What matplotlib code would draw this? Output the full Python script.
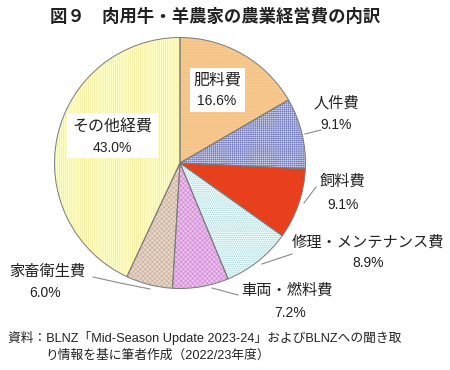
import matplotlib
matplotlib.use("Agg")
import matplotlib.pyplot as plt
from matplotlib.lines import Line2D
from matplotlib.patches import Rectangle

plt.rcParams['font.family'] = ['Liberation Sans', 'Noto Sans CJK JP', 'DejaVu Sans']
plt.rcParams['hatch.linewidth'] = 0.45

# data (clockwise from 12 o'clock)
categories = ["肥料費", "人件費", "飼料費", "修理・メンテナンス費", "車両・燃料費", "家畜衛生費", "その他経費"]
shares = [16.6, 9.1, 9.1, 8.9, 7.2, 6.0, 43.0]
pct_labels = ["16.6%", "9.1%", "9.1%", "8.9%", "7.2%", "6.0%", "43.0%"]

face_colors = ["#F7C98E", "#D2D5EE", "#E8401C", "#E6F8F8", "#EDBDEE", "#E8D6C8", "#FFFFC8"]
hatch_colors = ["#EEB878", "#7880C0", "#E8401C", "#9CCED2", "#CC8CD2", "#C8AE9C", "#F0E696"]
hatches = ["......", "++++++++", None, "........", "xxxxxxx", "xxxxxxx", "||||||||"]

W, H = 450, 370
fig = plt.figure(figsize=(4.5, 3.7), dpi=100)


def fx(x):
    return x / W


def fy(y):
    return 1 - y / H


# pie, centre (180,163) radius 128 px
cx, cy, r = 180, 163, 128
ax = fig.add_axes([fx(cx - r), fy(cy + r), 2 * r / W, 2 * r / H])
wedges, _ = ax.pie(shares, startangle=90, counterclock=False, colors=face_colors,
                   wedgeprops=dict(linewidth=0))
for w, hc, h in zip(wedges, hatch_colors, hatches):
    w.set_edgecolor(hc)
    w.set_linewidth(0)
    if h:
        w.set_hatch(h)
# outlines on top
outl, _ = ax.pie(shares, startangle=90, counterclock=False,
                 wedgeprops=dict(fill=False, edgecolor="#7a7a7a", linewidth=0.7))
ax.set_xlim(-1.02, 1.02)
ax.set_ylim(-1.02, 1.02)
ax.axis("off")

# title
fig.text(fx(215), fy(16), "図９　肉用牛・羊農家の農業経営費の内訳", ha="center", va="center",
         fontsize=12.5, fontweight="bold", color="#222222")


def boxed(x0, x1, y0, y1, name, pct, xc, yn, yp):
    fig.add_artist(Rectangle((fx(x0), fy(y1)), (x1 - x0) / W, (y1 - y0) / H,
                             transform=fig.transFigure, facecolor="white", edgecolor="none"))
    fig.text(fx(xc), fy(yn), name, ha="center", va="center", fontsize=11.5, color="#222222")
    fig.text(fx(xc), fy(yp), pct, ha="center", va="center", fontsize=10, color="#222222")


boxed(190, 245, 68, 112, categories[0], pct_labels[0], 217, 80, 101)
boxed(67, 158, 113, 158, categories[6], pct_labels[6], 112, 127, 148)

# outside labels: (index, name xy, pct xy, leader line points)
outside = [
    (1, (336, 103), (336, 125), [(305, 134), (321, 130)]),
    (2, (343, 182), (343, 205), [(304, 203), (316, 187)]),
    (3, (368, 243), (368, 263), [(262, 264), (292, 254)]),
    (4, (287, 291), (290, 313), [(212, 288), (238, 295)]),
    (5, (47, 272), (45, 293), [(93, 277), (120, 283), (150, 289)]),
]
for i, nxy, pxy, pts in outside:
    fig.text(fx(nxy[0]), fy(nxy[1]), categories[i], ha="center", va="center",
             fontsize=11, color="#222222")
    fig.text(fx(pxy[0]), fy(pxy[1]), pct_labels[i], ha="center", va="center",
             fontsize=10, color="#222222")
    fig.add_artist(Line2D([fx(p[0]) for p in pts], [fy(p[1]) for p in pts],
                          transform=fig.transFigure, color="#8a8a8a", linewidth=0.8))

# source note
fig.text(fx(8), fy(338), "資料：BLNZ「Mid-Season Update 2023-24」およびBLNZへの聞き取",
         ha="left", va="center", fontsize=9.2, color="#222222")
fig.text(fx(45), fy(356), "り情報を基に筆者作成（2022/23年度）",
         ha="left", va="center", fontsize=9.2, color="#222222")

fig.savefig("out.png", dpi=100, facecolor="white")
